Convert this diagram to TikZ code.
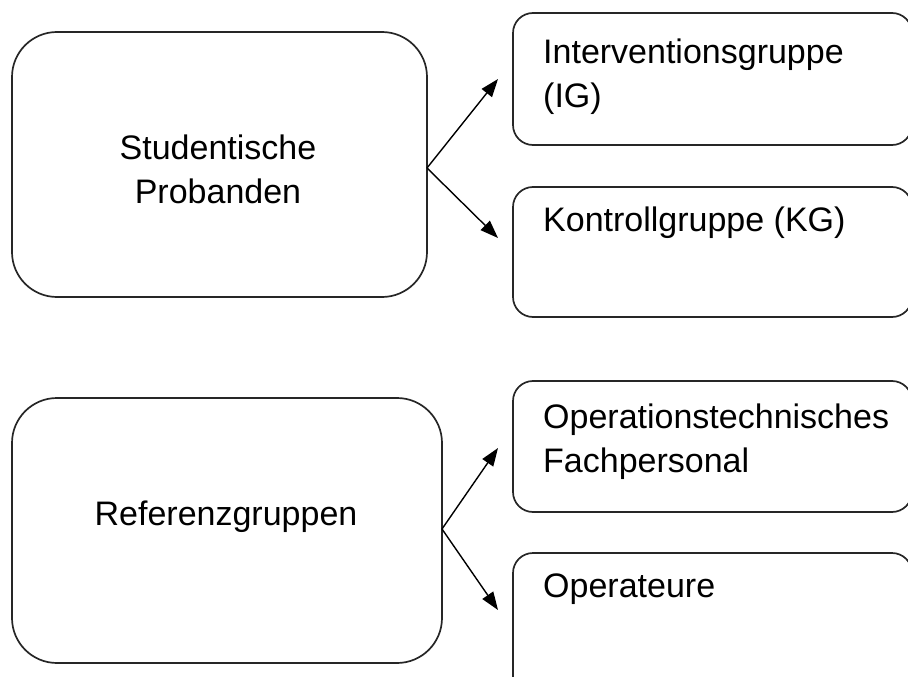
\documentclass[tikz,border=0pt]{standalone}
\usepackage{fontspec}
\setmainfont{Liberation Sans}
\usetikzlibrary{arrows.meta}

\tikzset{
  group/.style={draw=black!85, line width=1.7pt, rounded corners=45pt,
    inner sep=0pt},
  subgroup/.style={draw=black!85, line width=1.7pt, rounded corners=20pt,
    inner sep=0pt},
  title/.style={anchor=north, inner sep=0pt, align=center,
    font=\fontsize{34}{44}\selectfont},
  label/.style={anchor=north west, inner sep=0pt, align=left,
    font=\fontsize{34}{44}\selectfont},
  link/.style={draw=black, line width=1.4pt,
    -{Triangle[length=18pt,width=13pt]}}
}

\begin{document}
\begin{tikzpicture}[x=1pt, y=-1pt]
  \useasboundingbox (0,0) rectangle (908,677);
  \clip (0,0) rectangle (908,677);

  % main groups on the left
  \node[group, minimum width=415pt, minimum height=265pt] (sp)  at (219.5,164.5) {};
  \node[group, minimum width=430pt, minimum height=265pt] (ref) at (227,530.5) {};
  \node[title] (spt)  at (218,135) {Studentische\\Probanden};
  \node[title] (reft) at (226,501) {Referenzgruppen};

  % sub-groups on the right (running off the right and bottom edges)
  \node[subgroup, minimum width=399pt, minimum height=132pt] (ig)  at (712.5,79) {};
  \node[subgroup, minimum width=399pt, minimum height=130pt] (kg)  at (712.5,252) {};
  \node[subgroup, minimum width=399pt, minimum height=131pt] (otf) at (712.5,446.5) {};
  \node[subgroup, minimum width=399pt, minimum height=150pt] (op)  at (712.5,628) {};

  % texts of the sub-groups
  \node[label] (igt)  at (543,39)  {Interventionsgruppe\\(IG)};
  \node[label] (kgt)  at (543,207) {Kontrollgruppe (KG)};
  \node[label] (otft) at (543,404) {Operationstechnisches\\Fachpersonal};
  \node[label] (opt)  at (543,574) {Operateure};

  % arrow tips just left of the sub-groups
  \coordinate (igin)  at (498,79);
  \coordinate (kgin)  at (498,238);
  \coordinate (otfin) at (498,448);
  \coordinate (opin)  at (498,610);

  \coordinate (spout)  at (427,168);
  \coordinate (refout) at (442,529);

  \draw[link] (spout) -- (igin);
  \draw[link] (spout) -- (kgin);
  \draw[link] (refout) -- (otfin);
  \draw[link] (refout) -- (opin);
\end{tikzpicture}
\end{document}
